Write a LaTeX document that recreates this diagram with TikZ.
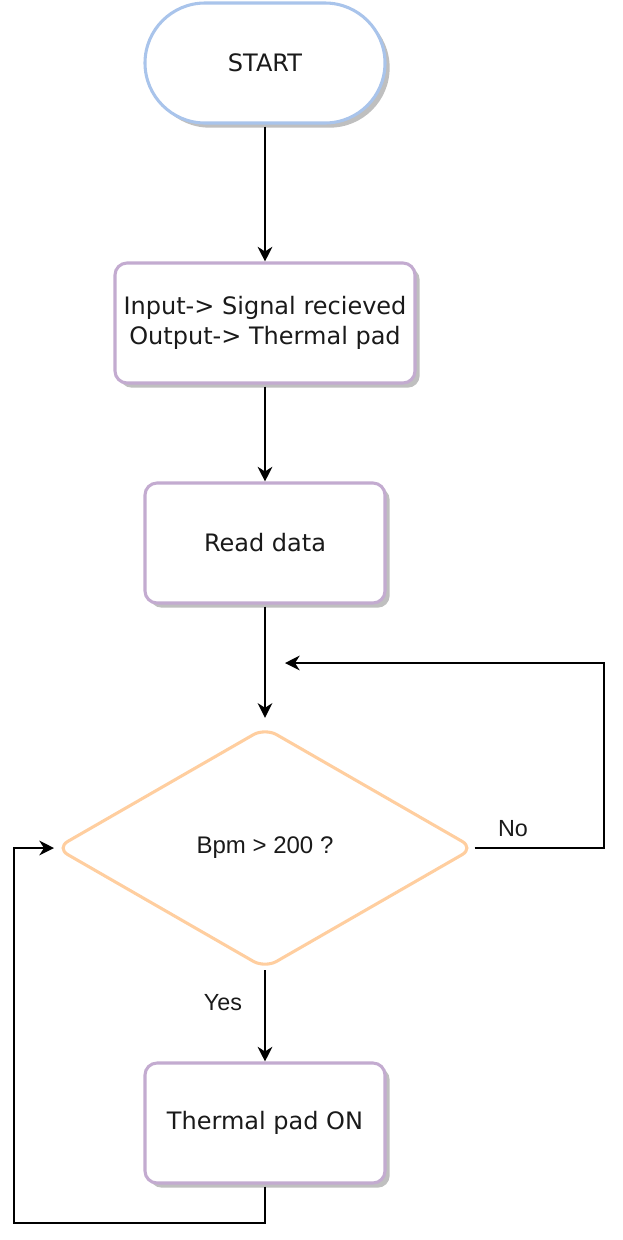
\documentclass[tikz,border=0pt]{standalone}
\usepackage{fontspec}
\setmainfont{DejaVu Sans}
\newfontfamily\arialf{Liberation Sans}
\usetikzlibrary{shapes.geometric,shadows,arrows.meta}
\definecolor{startc}{HTML}{A9C4EB}
\definecolor{boxc}{HTML}{C3ABD0}
\definecolor{diac}{HTML}{FFCE9F}
\definecolor{shadowc}{HTML}{BFBFBF}
\definecolor{txtc}{HTML}{1A1A1A}
\tikzset{
  shad/.style={drop shadow={shadow xshift=3.5pt, shadow yshift=-3.5pt, fill=shadowc, opacity=1}},
  termbox/.style={draw=startc, line width=2.3pt, fill=white, rounded corners=45pt, minimum width=180pt, minimum height=90pt, inner sep=0pt, text=txtc, font=\fontsize{18}{22}\selectfont, shad},
  procbox/.style={draw=boxc, line width=2.3pt, fill=white, rounded corners=9pt, minimum height=90pt, inner sep=0pt, align=center, text=txtc, font=\fontsize{18}{22}\selectfont, shad},
  decbox/.style={draw=diac, line width=2.3pt, fill=white, diamond, aspect=1.737, minimum width=314pt, minimum height=181pt, inner sep=0pt, rounded corners=10pt, text=txtc, font=\arialf\fontsize{18}{21}\selectfont},
  arr/.style={draw, line width=1.5pt, -{Stealth[length=11pt,width=11pt,inset=3.5pt]}},
  lbl/.style={font=\arialf\fontsize{17.5}{20}\selectfont, text=txtc, inner sep=0pt}
}
\begin{document}
\begin{tikzpicture}[x=0.75pt,y=-0.75pt]
\useasboundingbox (0,0) rectangle (622,1240);
\node[termbox] (start) at (265,63) {START};
\node[procbox, minimum width=225pt] (input) at (265,323) {Input-> Signal recieved\\Output-> Thermal pad};
\node[procbox, minimum width=180pt] (read) at (265,543) {Read data};
\node[decbox] (dec) at (265,848) {Bpm > 200 ?};
\node[procbox, minimum width=180pt] (pad) at (265,1123) {Thermal pad ON};
\coordinate (noend) at (285,663);
\coordinate (loopin) at (54,848);
\draw[arr] ([yshift=-1.5pt]start.south) -- (input.north);
\draw[arr] ([yshift=-1.5pt]input.south) -- (read.north);
\draw[arr] ([yshift=-1.5pt]read.south) -- ([yshift=6pt]dec.north);
\draw[arr] (dec.south) -- (pad.north);
\draw[arr] ([xshift=-1pt]dec.east) -- (604,848) -- (604,663) -- (noend);
\draw[arr] ([yshift=-1.5pt]pad.south) -- (265,1223) -- (14,1223) -- (14,848) -- (loopin);
\node[lbl] (no) at (513,829) {No};
\node[lbl] (yes) at (223,1003) {Yes};
\end{tikzpicture}
\end{document}
